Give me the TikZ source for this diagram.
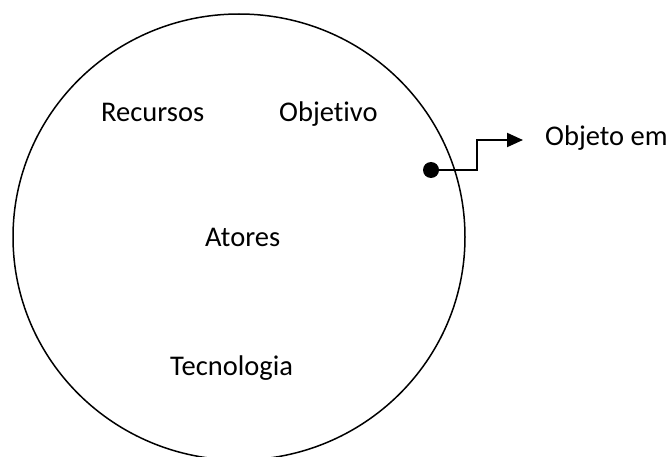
\documentclass[tikz,border=0pt]{standalone}
\usepackage{fontspec}
\setmainfont{Carlito}[Ligatures=CommonOff]
\usetikzlibrary{arrows.meta}

\tikzset{
    rotulo/.style={anchor=base west, inner sep=0pt, font=\fontsize{28.5}{34}\selectfont},
}

\begin{document}
\begin{tikzpicture}[x=1pt, y=-1pt]
    \useasboundingbox (0,0) rectangle (672,457);

    \draw[line width=1.5pt] (239,237) ellipse [x radius=226, y radius=223];

    \node[rotulo] (recursos) at (101,122) {Recursos};
    \node[rotulo] (objetivo) at (279,122) {Objetivo};
    \node[rotulo] (atores) at (205,247) {Atores};
    \node[rotulo] (tecnologia) at (170,375) {Tecnologia};
    \node[rotulo] (objeto) at (545,146) {Objeto em};

    \node[circle, fill=black, inner sep=0pt, minimum size=16pt] (ponto) at (431,170) {};
    \coordinate (dobra) at (477,170);
    \coordinate (ponta) at (523,140);

    \draw[line width=2pt, -{Triangle[length=16pt, width=14pt]}] (ponto.center) -- (dobra) |- (ponta);
\end{tikzpicture}
\end{document}
